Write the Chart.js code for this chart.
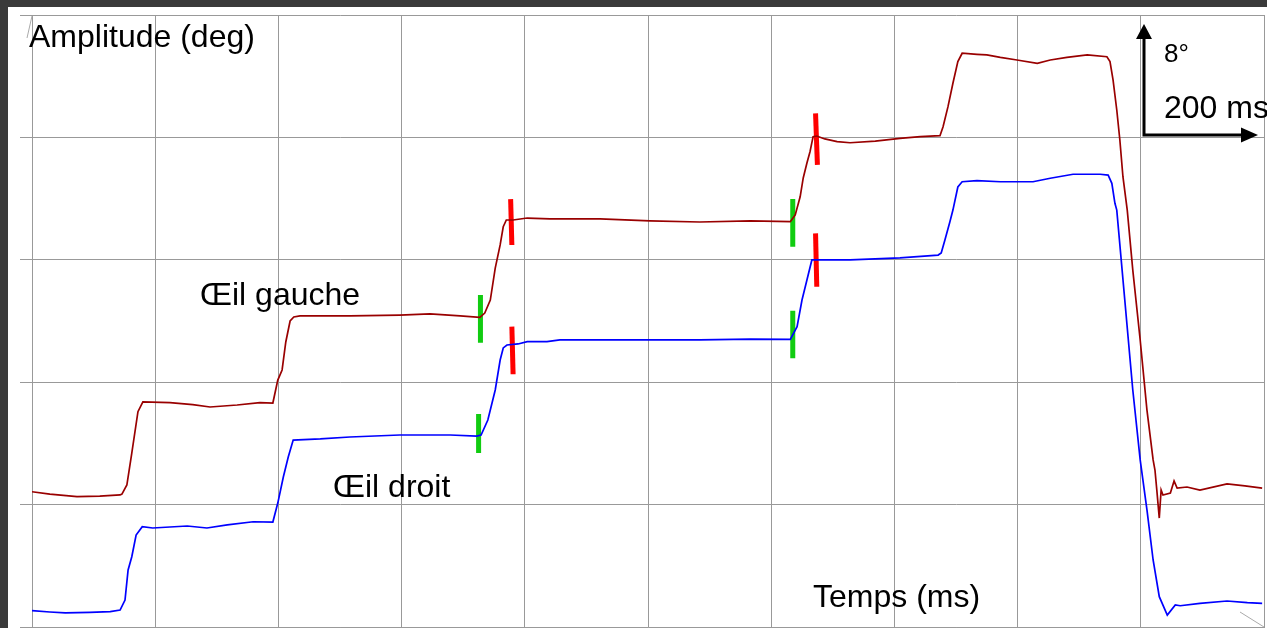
<!DOCTYPE html>
<html>
<head>
<meta charset="utf-8">
<script src="https://cdn.jsdelivr.net/npm/chart.js@4"></script>
<style>
	body { margin: 0; background: #3a3a3a; width: 1267px; height: 628px; overflow: hidden; }
	#wrap { position: absolute; left: 8px; top: 7px; width: 1259px; height: 621px; background: #fff; }
</style>
</head>
<body>
<div id="wrap"><canvas id="firstChart" width="1259" height="621"></canvas></div>
<script>
// temps (ms) / amplitude (deg)
const gaucheTemps = [0, 29, 73, 110, 143, 146, 154, 162, 172, 180, 224, 261, 289, 333, 370, 391, 399, 406, 412, 419, 425, 435, 516, 597, 646, 695, 727, 735, 744, 752, 760, 765, 770, 781, 804, 841, 922, 1003, 1084, 1166, 1231, 1239, 1247, 1252, 1258, 1263, 1268, 1274, 1287, 1307, 1328, 1369, 1409, 1442, 1474, 1479, 1487, 1495, 1503, 1510, 1534, 1550, 1572, 1599, 1632, 1653, 1680, 1713, 1745, 1750, 1755, 1761, 1766, 1771, 1778, 1787, 1799, 1810, 1820, 1823, 1826, 1830, 1833, 1836, 1848, 1854, 1859, 1875, 1896, 1940, 1969, 1997];
const gaucheDeg = [8.84, 8.69, 8.52, 8.56, 8.63, 8.69, 9.28, 11.37, 14.07, 14.71, 14.67, 14.54, 14.38, 14.51, 14.67, 14.64, 16.14, 16.80, 18.63, 20.0, 20.26, 20.33, 20.33, 20.39, 20.46, 20.33, 20.24, 20.52, 21.37, 23.46, 24.97, 26.16, 26.60, 26.60, 26.73, 26.67, 26.67, 26.54, 26.47, 26.54, 26.49, 26.93, 28.12, 29.35, 30.33, 31.06, 32.05, 32.09, 31.90, 31.72, 31.65, 31.76, 31.94, 32.05, 32.11, 32.70, 34.01, 35.54, 36.95, 37.50, 37.43, 37.39, 37.23, 37.06, 36.84, 37.06, 37.23, 37.39, 37.27, 36.95, 35.75, 33.79, 31.83, 29.43, 27.25, 23.33, 18.76, 14.18, 10.92, 10.26, 8.95, 7.12, 8.95, 8.63, 8.76, 9.54, 9.08, 9.15, 8.95, 9.35, 9.22, 9.08];

const droitTemps = [0, 29, 54, 94, 127, 143, 151, 156, 162, 169, 179, 196, 252, 284, 317, 359, 391, 399, 408, 416, 424, 468, 516, 597, 679, 722, 729, 740, 752, 760, 765, 771, 789, 804, 836, 857, 922, 1003, 1084, 1166, 1231, 1242, 1250, 1258, 1266, 1284, 1328, 1409, 1471, 1476, 1482, 1490, 1495, 1503, 1510, 1534, 1572, 1625, 1653, 1690, 1734, 1747, 1753, 1758, 1761, 1774, 1787, 1799, 1810, 1820, 1830, 1843, 1856, 1864, 1896, 1940, 1973, 1997];
const droitDeg = [1.07, 0.98, 0.92, 0.95, 1.00, 1.11, 1.76, 3.73, 4.59, 6.01, 6.56, 6.47, 6.60, 6.47, 6.67, 6.88, 6.86, 8.10, 9.80, 11.11, 12.22, 12.29, 12.42, 12.55, 12.55, 12.48, 12.55, 13.53, 15.49, 17.45, 18.24, 18.43, 18.50, 18.65, 18.65, 18.76, 18.76, 18.76, 18.76, 18.82, 18.80, 19.63, 21.37, 22.68, 23.99, 23.99, 23.99, 24.12, 24.31, 24.44, 25.29, 26.47, 27.25, 28.76, 29.10, 29.17, 29.10, 29.10, 29.33, 29.59, 29.59, 29.54, 29.00, 27.69, 27.25, 21.37, 15.49, 10.92, 7.65, 4.38, 1.98, 0.78, 1.44, 1.39, 1.55, 1.70, 1.59, 1.55];

// repères début (vert) et fin (rouge) de saccade : temps haut, temps bas, deg haut, deg bas
const vertTempsHaut = [728, 725, 1235, 1235];
const vertTempsBas = [728, 725, 1235, 1235];
const vertDegHaut = [21.70, 13.92, 27.97, 20.67];
const vertDegBas = [18.58, 11.37, 24.86, 17.56];
const rougeTempsHaut = [777, 779, 1272, 1272];
const rougeTempsBas = [779, 781, 1275, 1274];
const rougeDegHaut = [27.97, 19.63, 33.57, 25.73];
const rougeDegBas = [24.97, 16.52, 30.20, 22.24];

const xTicks = [0, 2000, 200];
const yTicks = [0, 40, 8];

function toPoints(xs, ys) {
	return xs.map((x, i) => ({ x: x, y: ys[i] }));
}

let datasets = [
	{ data: toPoints(gaucheTemps, gaucheDeg), borderColor: '#990000', borderWidth: 1.7 },
	{ data: toPoints(droitTemps, droitDeg), borderColor: '#0000ff', borderWidth: 1.7 },
];
for (let i = 0; i < vertTempsHaut.length; i++) {
	datasets.push({
		data: [{ x: vertTempsHaut[i], y: vertDegHaut[i] }, { x: vertTempsBas[i], y: vertDegBas[i] }],
		borderColor: '#11cc11', borderWidth: 5,
	});
}
for (let i = 0; i < rougeTempsHaut.length; i++) {
	datasets.push({
		data: [{ x: rougeTempsHaut[i], y: rougeDegHaut[i] }, { x: rougeTempsBas[i], y: rougeDegBas[i] }],
		borderColor: '#ff0000', borderWidth: 5,
	});
}

const decor = {
	id: 'decor',
	afterDraw(chart) {
		let c = chart.ctx;
		let a = chart.chartArea;
		c.save();
		// petits restes de flèches d'axes
		c.strokeStyle = '#aaaaaa';
		c.lineWidth = 1;
		c.beginPath();
		c.moveTo(a.left - 5, a.top + 23);
		c.lineTo(a.left, a.top + 1);
		c.moveTo(a.right - 24, a.bottom - 15);
		c.lineTo(a.right, a.bottom);
		c.stroke();

		// échelle 8° / 200 ms
		let ox = a.left + 1112, oy = a.top + 120;
		c.strokeStyle = '#000';
		c.fillStyle = '#000';
		c.lineWidth = 3;
		c.beginPath();
		c.moveTo(ox, a.top + 20);
		c.lineTo(ox, oy);
		c.lineTo(ox + 100, oy);
		c.stroke();
		c.beginPath();
		c.moveTo(ox, a.top + 9);
		c.lineTo(ox - 8, a.top + 24);
		c.lineTo(ox + 8, a.top + 24);
		c.closePath();
		c.fill();
		c.beginPath();
		c.moveTo(ox + 114, oy);
		c.lineTo(ox + 97, oy - 7.5);
		c.lineTo(ox + 97, oy + 7.5);
		c.closePath();
		c.fill();

		c.textBaseline = 'alphabetic';
		c.textAlign = 'left';
		c.font = '26px "Liberation Sans", Arial, sans-serif';
		c.fillText('8°', ox + 20, a.top + 47);
		c.font = '32px "Liberation Sans", Arial, sans-serif';
		c.fillText('200 ms', ox + 20, a.top + 103);
		c.fillText('Amplitude (deg)', a.left - 3, a.top + 32);
		c.fillText('Œil gauche', a.left + 168, a.top + 290);
		c.fillText('Œil droit', a.left + 301, a.top + 482);
		c.fillText('Temps (ms)', a.left + 781, a.top + 592);
		c.restore();
	}
};

let ctx = document.getElementById('firstChart');
new Chart(ctx, {
	type: 'line',
	data: { datasets: datasets },
	options: {
		responsive: false,
		animation: false,
		devicePixelRatio: 1,
		layout: { padding: { left: 12, top: 8, right: 3, bottom: 1 } },
		elements: {
			point: { radius: 0 },
			line: { tension: 0, fill: false, borderCapStyle: 'butt' },
		},
		plugins: { legend: { display: false }, tooltip: { enabled: false } },
		scales: {
			x: {
				type: 'linear',
				min: xTicks[0], max: xTicks[1],
				ticks: { display: false, stepSize: xTicks[2] },
				grid: { color: '#999999', drawTicks: false },
				border: { color: '#999999' },
			},
			y: {
				type: 'linear',
				min: yTicks[0], max: yTicks[1],
				ticks: { display: false, stepSize: yTicks[2] },
				grid: { color: '#999999', drawTicks: true, tickLength: 12 },
				border: { color: '#999999' },
			},
		},
	},
	plugins: [decor],
});
</script>
</body>
</html>
